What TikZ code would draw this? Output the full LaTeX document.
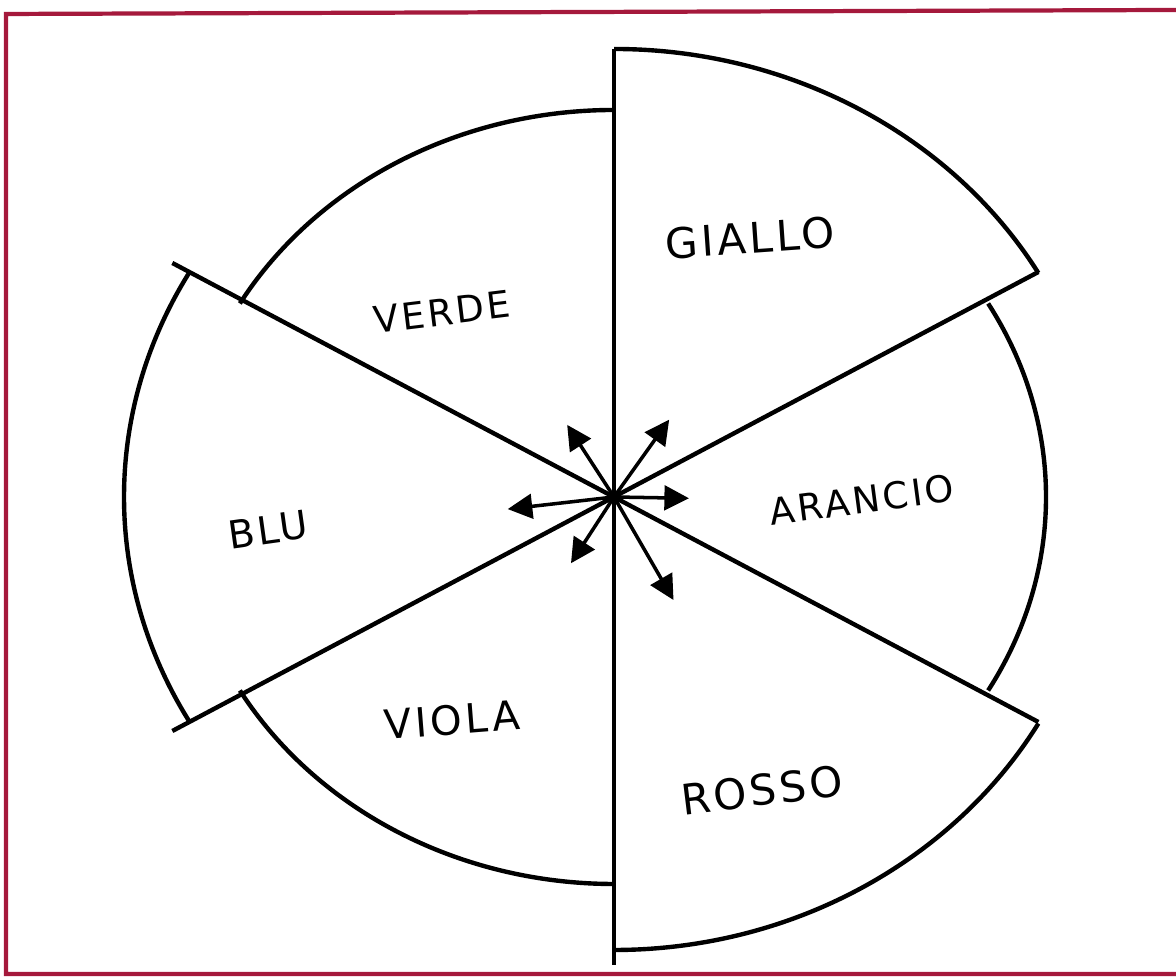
\documentclass[tikz,border=0pt]{standalone}
\usepackage{fontspec}
\newfontfamily\handfont{DejaVu Sans}[LetterSpace=8]
\usetikzlibrary{arrows.meta,calc}
\definecolor{framered}{RGB}{165,25,60}

\begin{document}
\begin{tikzpicture}[wheel/.style={line width=1.25pt},
    arr/.style={-{Triangle[length=7pt,width=7pt]},line width=1pt},
    lab/.style={font=\handfont\fontsize{#1}{#1}\selectfont,inner sep=0pt},
    lab/.default=12]
    \useasboundingbox (0,0) rectangle (11.76,9.77);
    \draw[framered,line width=1.2pt] (11.76,9.67) -- (0.06,9.63) -- (0.06,0.03) -- (11.76,0.03);

    \coordinate (c) at (6.14,4.80);
    \coordinate (gTop) at ($(c)+(90:4.9 and 4.48)$);
    \coordinate (gR) at ($(c)+(30:4.9 and 4.5)$);
    \coordinate (rR) at ($(c)+(330:4.9 and 4.5)$);
    \coordinate (bUp) at ($(c)+(150:5.1 and 4.68)$);
    \coordinate (bLo) at ($(c)+(210:5.1 and 4.68)$);
    \coordinate (vBot) at ($(c)+(0,-4.68)$);

    \draw[wheel] (gTop) arc[start angle=90,end angle=30,x radius=4.9,y radius=4.48];
    \draw[wheel] ($(c)+(90:4.32 and 3.87)$) arc[start angle=90,end angle=150,x radius=4.32,y radius=3.87];
    \draw[wheel] ($(c)+(150:4.9 and 4.5)$) arc[start angle=150,end angle=210,x radius=4.9,y radius=4.5];
    \draw[wheel] ($(c)+(210:4.32 and 3.87)$) arc[start angle=210,end angle=270,x radius=4.32,y radius=3.87];
    \draw[wheel] ($(c)+(270:4.9 and 4.53)$) arc[start angle=270,end angle=330,x radius=4.9,y radius=4.53];
    \draw[wheel] ($(c)+(330:4.32 and 3.87)$) arc[start angle=330,end angle=390,x radius=4.32,y radius=3.87];

    \draw[wheel] (gTop) -- (vBot);
    \draw[wheel] (bLo) -- (gR);
    \draw[wheel] (bUp) -- (rR);

    \coordinate (t1) at ($(c)+(123:0.86)$);
    \coordinate (t2) at ($(c)+(54.5:0.95)$);
    \coordinate (t3) at ($(c)+(-1:0.75)$);
    \coordinate (t4) at ($(c)+(186.5:1.07)$);
    \coordinate (t5) at ($(c)+(237:0.79)$);
    \coordinate (t6) at ($(c)+(300:1.19)$);
    \path[arr]
    (c)
    edge (t1)
    edge (t2)
    edge (t3)
    edge (t4)
    edge (t5)
    edge (t6);

    \node[lab,rotate=4] (giallo) at (7.50,7.39) {GIALLO};
    \node[lab=10.5,rotate=7] (verde) at (4.42,6.65) {VERDE};
    \node[lab=10.5,rotate=7.5] (arancio) at (8.62,4.77) {ARANCIO};
    \node[lab=11,rotate=8] (blu) at (2.68,4.47) {BLU};
    \node[lab=11.5,rotate=4.5] (viola) at (4.52,2.57) {VIOLA};
    \node[lab,rotate=7] (rosso) at (7.62,1.87) {ROSSO};
\end{tikzpicture}
\end{document}
